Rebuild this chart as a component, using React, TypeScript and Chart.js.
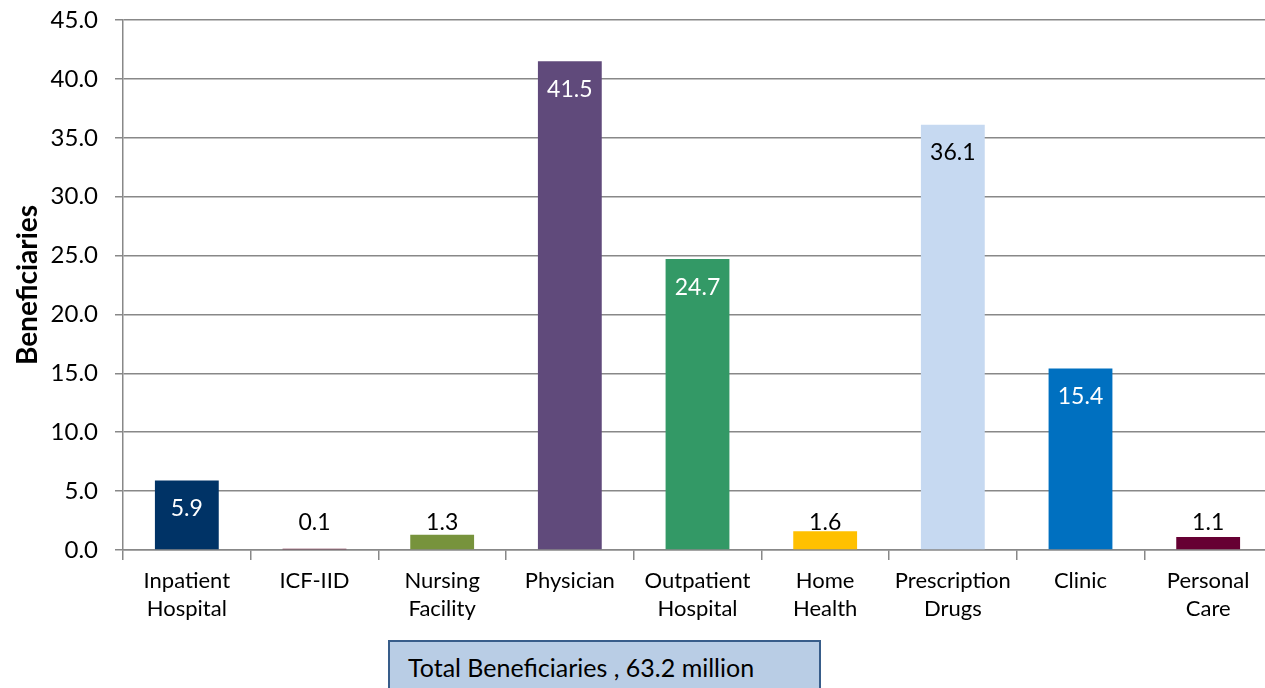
import React, { useEffect, useRef } from "react";
import { Chart, registerables } from "chart.js";

Chart.register(...registerables);

const categories: string[][] = [
  ["Inpatient", "Hospital"],
  ["ICF-IID"],
  ["Nursing", "Facility"],
  ["Physician"],
  ["Outpatient", "Hospital"],
  ["Home", "Health"],
  ["Prescription", "Drugs"],
  ["Clinic"],
  ["Personal", "Care"],
];
const beneficiaries: number[] = [5.9, 0.1, 1.3, 41.5, 24.7, 1.6, 36.1, 15.4, 1.1];
const yTicks: number[] = [0, 5, 10, 15, 20, 25, 30, 35, 40, 45];
const yTitle = "Beneficiaries";
const totalText = "Total Beneficiaries , 63.2 million";

const barColors = ["#003366", "#6a1030", "#77933c", "#604a7b", "#339966", "#ffc000", "#c6d9f1", "#0070c0", "#660033"];
const insideLabelColors = ["#ffffff", "#000000", "#000000", "#ffffff", "#ffffff", "#000000", "#000000", "#ffffff", "#ffffff"];

const FONT = "Lato, 'Noto Sans', sans-serif";

const labelPlugin = {
  id: "valueLabels",
  afterDatasetsDraw(chart: any) {
    const ctx = chart.ctx;
    const meta = chart.getDatasetMeta(0);
    ctx.save();
    ctx.font = `23px ${FONT}`;
    ctx.textAlign = "center";
    ctx.textBaseline = "middle";
    meta.data.forEach((el: any, i: number) => {
      const v = beneficiaries[i];
      const inside = el.y + 28;
      const outside = el.base - 27;
      const isInside = inside <= outside;
      const y = isInside ? inside : outside;
      ctx.fillStyle = isInside ? insideLabelColors[i] : "#000000";
      ctx.fillText(v.toFixed(1), el.x, y);
    });
    ctx.restore();
  },
};

export default function App() {
  const ref = useRef<HTMLCanvasElement | null>(null);
  useEffect(() => {
    if (!ref.current) return;
    const chart = new Chart(ref.current, {
      type: "bar",
      data: {
        labels: categories,
        datasets: [
          {
            data: beneficiaries,
            backgroundColor: barColors,
            categoryPercentage: 1,
            barPercentage: 0.5,
          },
        ],
      },
      options: {
        animation: false,
        responsive: false,
        maintainAspectRatio: false,
        layout: { padding: { top: 20, left: 0, right: 0, bottom: 0 } },
        plugins: { legend: { display: false }, tooltip: { enabled: false } },
        scales: {
          x: {
            grid: { display: true, drawOnChartArea: false, drawTicks: true, tickLength: 10, color: "#888888", lineWidth: 1.5, offset: true },
            border: { color: "#888888", width: 1.5 },
            ticks: { color: "#000000", font: { family: FONT, size: 22, lineHeight: 1.27 }, padding: 7, maxRotation: 0, autoSkip: false },
            afterFit: (s: any) => { s.height = 138; s.paddingLeft = 0; s.paddingRight = 0; },
          },
          y: {
            min: 0,
            max: 45,
            afterBuildTicks: (s: any) => { s.ticks = yTicks.map((v) => ({ value: v })); },
            grid: { color: "#888888", lineWidth: 1.5, tickLength: 8 },
            border: { color: "#888888", width: 1.5 },
            ticks: { color: "#000000", font: { family: FONT, size: 24 }, padding: 17, callback: (v: any) => Number(v).toFixed(1) },
            title: { display: true, text: yTitle, color: "#000000", font: { family: FONT, size: 28, weight: "bold" }, padding: { top: 11, bottom: 0 } },
            afterFit: (s: any) => { s.width = 123; s.paddingTop = 0; s.paddingBottom = 0; },
          },
        },
      },
      plugins: [labelPlugin],
    });
    return () => chart.destroy();
  }, []);

  return (
    <div style={{ position: "fixed", left: 0, top: 0, width: 1265, height: 688, overflow: "hidden", background: "#fff" }}>
      <canvas ref={ref} width={1272} height={688} style={{ display: "block" }} />
      <div
        style={{
          position: "absolute",
          left: 388,
          top: 640,
          width: 433,
          height: 60,
          background: "#b9cde5",
          border: "2px solid #385d8a",
          boxSizing: "border-box",
          fontFamily: FONT,
          fontSize: 25,
          color: "#000",
          paddingLeft: 18,
          paddingTop: 10,
          lineHeight: "30px",
          whiteSpace: "nowrap",
        }}
      >
        {totalText}
      </div>
    </div>
  );
}
